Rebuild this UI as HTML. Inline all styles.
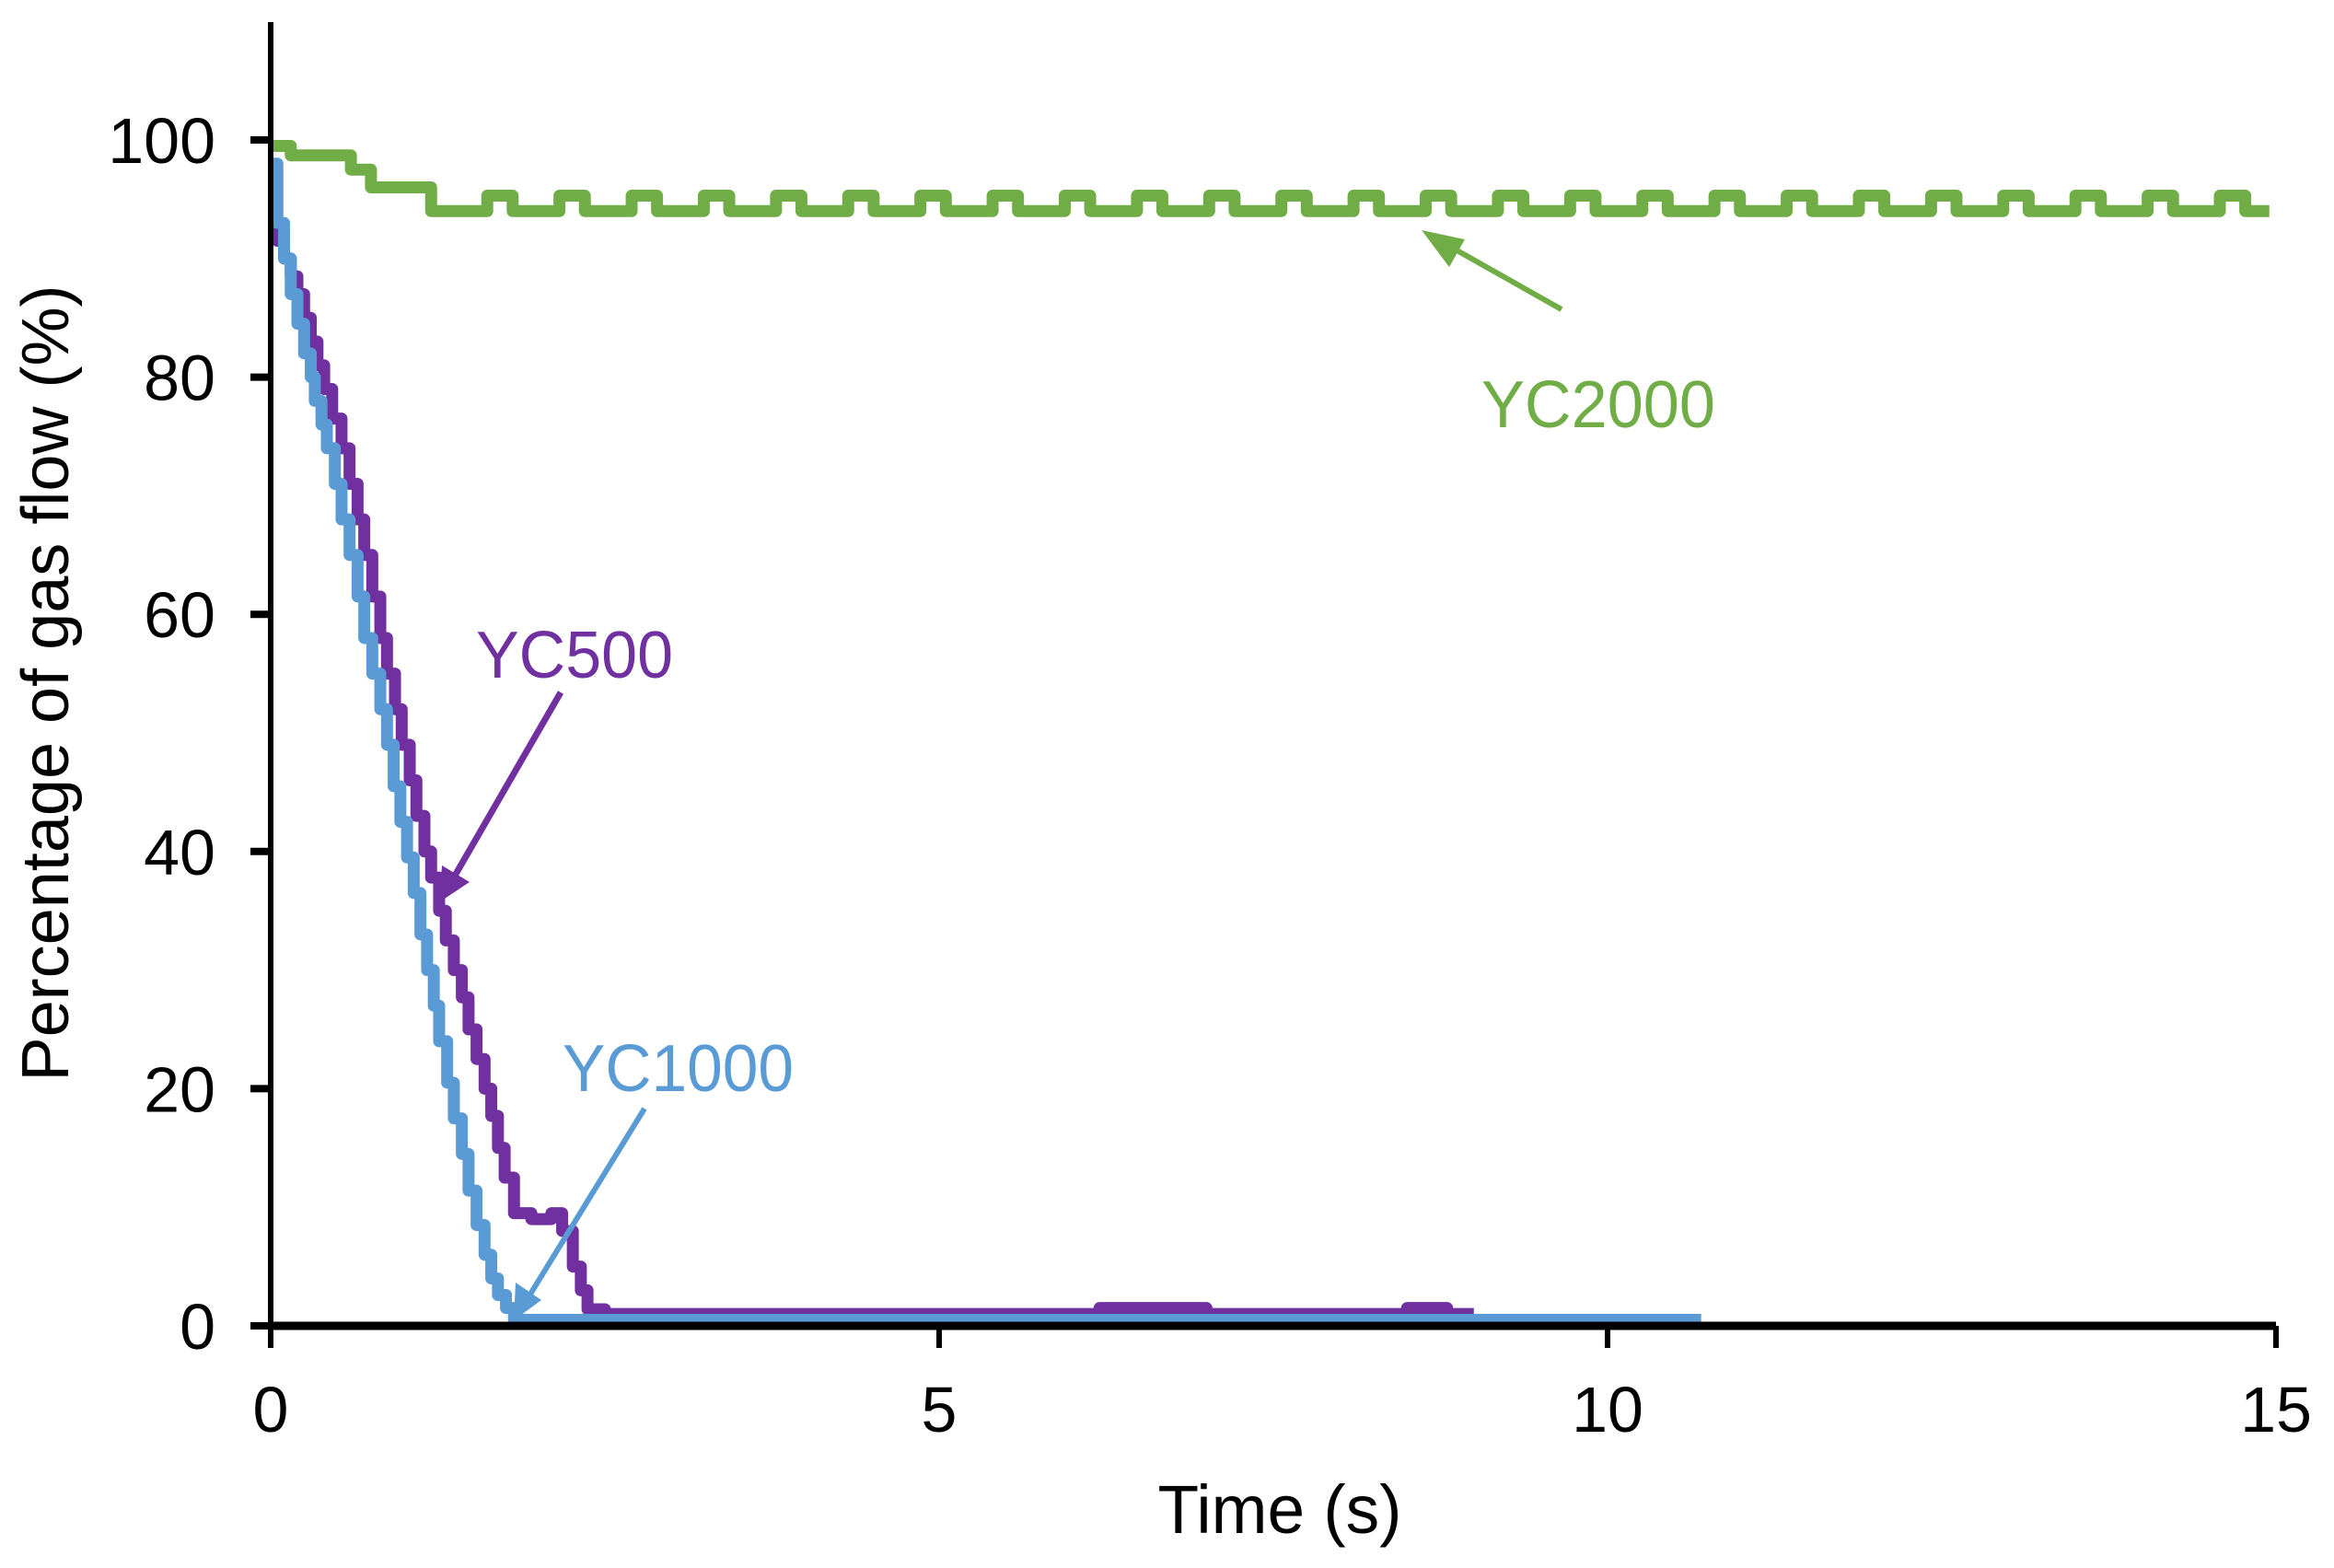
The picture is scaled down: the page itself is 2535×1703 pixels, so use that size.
<!DOCTYPE html>
<html><head><meta charset="utf-8"><style>
html,body{margin:0;padding:0;background:#fff}
svg{display:block}
text{font-family:"Liberation Sans",Arial,sans-serif}
</style></head><body>
<svg id="chart" width="2535" height="1703" viewBox="0 0 2535 1703" xmlns="http://www.w3.org/2000/svg">
<g id="plot"></g>
<g id="axes"></g>
<text x="1390" y="1665" font-size="74" text-anchor="middle" textLength="265" lengthAdjust="spacingAndGlyphs">Time (s)</text>
<text transform="translate(74,742) rotate(-90)" font-size="72" text-anchor="middle" textLength="865" lengthAdjust="spacingAndGlyphs">Percentage of gas flow (%)</text>
<g>
<text x="1609" y="464" font-size="72" fill="#70ad47" textLength="254" lengthAdjust="spacingAndGlyphs">YC2000</text>
<line x1="1696" y1="336" x2="1570" y2="265" stroke="#70ad47" stroke-width="6"/>
<polygon points="1544,250 1591,260 1574,290" fill="#70ad47"/>
</g>
<g>
<text x="517" y="736" font-size="72" fill="#7030a0" textLength="214" lengthAdjust="spacingAndGlyphs">YC500</text>
<line x1="609" y1="752" x2="490" y2="958" stroke="#7030a0" stroke-width="7"/>
<polygon points="477,980 480,940 510,958" fill="#7030a0"/>
</g>
<g>
<text x="611" y="1185" font-size="72" fill="#5b9bd5" textLength="251" lengthAdjust="spacingAndGlyphs">YC1000</text>
<line x1="700" y1="1204" x2="572" y2="1412" stroke="#5b9bd5" stroke-width="6"/>
<polygon points="558,1434 560,1393 588,1412" fill="#5b9bd5"/>
</g>
</svg>
<script>
// ---- data ----
const xTicks = [0, 5, 10, 15];
const yTicks = [0, 20, 40, 60, 80, 100];
const yc2000Time = [0,0.15,0.6,0.75,1.2,1.62,1.81,2.16,2.35,2.70,2.89,3.24,3.43,3.78,3.97,4.32,4.51,4.86,5.05,5.40,5.59,5.94,6.13,6.48,6.67,7.02,7.21,7.56,7.75,8.10,8.29,8.64,8.83,9.18,9.37,9.72,9.91,10.26,10.45,10.80,10.99,11.34,11.53,11.88,12.07,12.42,12.61,12.96,13.15,13.50,13.69,14.04,14.23,14.58,14.77,14.95];
const yc2000Value = [99.5,98.7,97.5,96,94,95.3,94,95.3,94,95.3,94,95.3,94,95.3,94,95.3,94,95.3,94,95.3,94,95.3,94,95.3,94,95.3,94,95.3,94,95.3,94,95.3,94,95.3,94,95.3,94,95.3,94,95.3,94,95.3,94,95.3,94,95.3,94,95.3,94,95.3,94,95.3,94,95.3,94,94];
const yc500Time = [0,0.05,0.1,0.15,0.2,0.25,0.3,0.35,0.4,0.46,0.53,0.59,0.65,0.7,0.76,0.82,0.87,0.93,0.98,1.04,1.09,1.15,1.2,1.26,1.31,1.37,1.43,1.48,1.54,1.6,1.65,1.7,1.75,1.82,1.95,2.1,2.18,2.26,2.32,2.37,2.5,3.0,4.0,5.0,6.0,6.2,7.0,8.0,8.5,8.8,9.0];
const yc500Value = [93,91.5,90,88.5,87,85,83,81,79,76.5,74,71,68,65,61.5,58,55,52,49,46,43,40,37.8,35,32.5,30,27.7,25,22.5,20,17.7,15,12.5,9.5,9,9.5,8,5,3,1.4,1,1,1,1,1,1.5,1,1,1.5,1,1];
const yc1000Time = [0,0.05,0.1,0.15,0.2,0.25,0.3,0.33,0.38,0.42,0.48,0.53,0.59,0.65,0.7,0.76,0.82,0.87,0.92,0.97,1.02,1.07,1.12,1.17,1.22,1.26,1.32,1.37,1.43,1.48,1.54,1.6,1.65,1.7,1.76,1.82,2.5,4.0,6.0,8.0,10.0,10.7];
const yc1000Value = [98,93,90,87,84.5,82,80,78,76,74,71,68,65,61.5,58,55,52,49,45.5,42.5,39.5,36.5,33,30,27,24,20.5,17.5,14.5,11.4,8.5,6,4,2.6,1.5,0.5,0.5,0.5,0.5,0.5,0.5,0.5];

const X0 = 294, X1 = 2472, Y0 = 1440, Y100 = 152;
const xs = t => X0 + (X1 - X0) * t / 15;
const ys = v => Y0 - (Y0 - Y100) * v / 100;
const NS = "http://www.w3.org/2000/svg";
const plot = document.getElementById('plot');
const axes = document.getElementById('axes');

function stepPath(T, V) {
  let d = "M" + xs(T[0]) + "," + ys(V[0]);
  for (let i = 1; i < T.length; i++) {
    d += " H" + xs(T[i]) + " V" + ys(V[i]);
  }
  return d;
}
function drawSeries(T, V, color, name, w) {
  const p = document.createElementNS(NS, 'path');
  p.setAttribute('d', stepPath(T, V));
  p.setAttribute('fill', 'none');
  p.setAttribute('stroke', color);
  p.setAttribute('stroke-width', w);
  p.setAttribute('stroke-linejoin', 'round');
  
  
  plot.appendChild(p);
}
drawSeries(yc2000Time, yc2000Value, '#70ad47', 'series-yc2000', 13);
drawSeries(yc500Time, yc500Value, '#7030a0', 'series-yc500', 13);
drawSeries(yc1000Time, yc1000Value, '#5b9bd5', 'series-yc1000', 13);

function line(x1, y1, x2, y2, w) {
  const l = document.createElementNS(NS, 'line');
  l.setAttribute('x1', x1); l.setAttribute('y1', y1);
  l.setAttribute('x2', x2); l.setAttribute('y2', y2);
  l.setAttribute('stroke', '#000'); l.setAttribute('stroke-width', w);
  axes.appendChild(l);
  return l;
}
const ya = line(X0, 24, X0, Y0 + 3, 6);


const xa = line(X0, Y0, X1, Y0, 9);



yTicks.forEach(v => {
  const tk = line(X0 - 22, ys(v), X0, ys(v), 8);
  
  
  const t = document.createElementNS(NS, 'text');
  t.setAttribute('x', 234); t.setAttribute('y', ys(v) + 25);
  t.setAttribute('font-size', '70'); t.setAttribute('text-anchor', 'end');
  t.textContent = v;
  
  
  axes.appendChild(t);
});
xTicks.forEach(v => {
  const tk = line(xs(v), Y0, xs(v), Y0 + 24, 6);
  
  
  const t = document.createElementNS(NS, 'text');
  t.setAttribute('x', xs(v)); t.setAttribute('y', 1555);
  t.setAttribute('font-size', '70'); t.setAttribute('text-anchor', 'middle');
  t.textContent = v;
  
  
  axes.appendChild(t);
});
</script>
</body></html>
